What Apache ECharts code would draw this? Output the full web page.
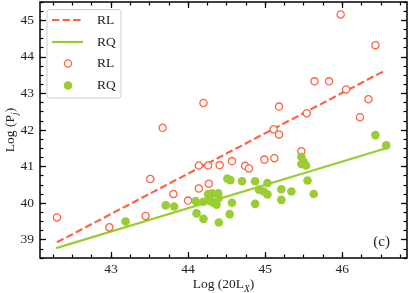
<!DOCTYPE html>
<html>
<head>
<meta charset="utf-8">
<script src="https://cdn.jsdelivr.net/npm/echarts@6/dist/echarts.min.js"></script>
<style>
  html, body { margin: 0; padding: 0; background: #fff; }
  #chart { width: 409px; height: 293px; }
</style>
</head>
<body>
<div id="chart"></div>
<script>
// RL sources (open circles)
var rlX = [42.30, 42.98, 43.45, 43.51, 43.67, 43.81, 44.00, 44.14, 44.26, 44.41,
  44.57, 44.74, 44.79, 44.99, 44.14, 44.27, 44.20, 45.12, 45.11, 45.18,
  45.18, 45.54, 45.47, 45.98, 46.43, 45.64, 45.83, 46.05, 46.34, 46.23]
var rlY = [39.61, 39.34, 39.65, 40.66, 42.06, 40.25, 40.07, 41.03, 41.03, 41.04,
  41.15, 41.02, 40.95, 41.19, 40.40, 40.53, 42.74, 41.23, 42.02, 41.88,
  42.64, 42.46, 41.42, 45.16, 44.32, 43.33, 43.33, 43.11, 42.84, 42.35]

// RQ sources (filled circles)
var rqX = [43.19, 43.71, 43.82, 44.10, 44.20, 44.26, 44.31, 44.39, 44.29, 44.34,
  44.37, 44.40, 44.11, 44.20, 44.40, 44.54, 44.57, 44.51, 44.55, 44.70,
  44.87, 44.87, 45.03, 44.92, 44.98, 45.03, 45.21, 45.21, 45.34, 45.47,
  45.47, 45.50, 45.53, 45.55, 45.63, 46.43, 46.57, 44.28]
var rqY = [39.50, 39.94, 39.91, 40.06, 40.04, 40.25, 40.27, 40.27, 40.05, 40.00,
  39.96, 40.14, 39.72, 39.57, 39.47, 39.70, 40.01, 40.67, 40.63, 40.60,
  40.60, 39.98, 40.55, 40.37, 40.32, 40.24, 40.38, 40.09, 40.32, 41.27,
  41.07, 41.13, 41.03, 40.62, 40.25, 41.86, 41.58, 40.16]

// fitted relations (end points)
var rlFitX = [42.30, 46.54]
var rlFitY = [38.93, 43.61]
var rqFitX = [42.29, 46.57]
var rqFitY = [38.77, 41.50]

var xTicks = [43, 44, 45, 46]
var yTicks = [39, 40, 41, 42, 43, 44, 45]
var xRange = [42.08, 46.84]
var yRange = [38.5, 45.5]

var RED = '#ff6347'
var GREEN = '#9acd32'
var FONT = 'Liberation Serif'

function pairs(xs, ys) {
  return xs.map(function (x, i) { return [x, ys[i]] })
}
function minorTicks(range, step) {
  var out = []
  for (var v = Math.ceil(range[0] / step) * step; v <= range[1] + 1e-9; v += step) {
    out.push(+v.toFixed(4))
  }
  return out
}

function makeAxis(dim, pos, major, withLabel) {
  var range = dim === 'x' ? xRange : yRange
  var ticks = dim === 'x' ? xTicks : yTicks
  var ax = {
    type: 'value',
    position: pos,
    min: range[0],
    max: range[1],
    splitLine: { show: false },
    axisLine: { show: false },
    axisTick: {
      show: true,
      inside: true,
      length: major ? 6 : 3.5,
      customValues: major ? ticks : minorTicks(range, 0.25),
      lineStyle: { color: '#000', width: 1.2 }
    },
    axisLabel: { show: false }
  }
  if (withLabel) {
    ax.axisLabel = {
      show: true,
      customValues: ticks,
      fontFamily: FONT,
      fontSize: 13.5,
      color: '#222',
      margin: dim === 'x' ? 4 : 6
    }
  }
  return ax
}

var chart = echarts.init(document.getElementById('chart'), null, { renderer: 'canvas' })

var subStyle = { fontFamily: FONT, fontSize: 9.5, fontStyle: 'italic', color: '#222', lineHeight: 12, verticalAlign: 'bottom' }

var xBottom = makeAxis('x', 'bottom', true, true)
xBottom.name = 'Log (20L{sub|X})'
xBottom.nameLocation = 'middle'
xBottom.nameGap = 16
xBottom.nameMoveOverlap = false
xBottom.nameTextStyle = {
  fontFamily: FONT, fontSize: 13.5, color: '#222', lineHeight: 20, rich: { sub: subStyle }
}
var yLeft = makeAxis('y', 'left', true, true)
yLeft.name = 'Log (P{sub|j})'
yLeft.nameLocation = 'middle'
yLeft.nameGap = 20
yLeft.nameMoveOverlap = false
yLeft.nameTextStyle = {
  fontFamily: FONT, fontSize: 13.5, color: '#222', lineHeight: 20, rich: { sub: subStyle }
}

var option = {
  animation: false,
  backgroundColor: '#fff',
  grid: {
    left: 40, right: 2, top: 2, bottom: 35,
    outerBoundsMode: 'none',
    containLabel: false,
    show: true, borderColor: '#000', borderWidth: 1.5, backgroundColor: 'transparent'
  },
  xAxis: [
    xBottom,
    makeAxis('x', 'bottom', false, false),
    makeAxis('x', 'top', true, false),
    makeAxis('x', 'top', false, false)
  ],
  yAxis: [
    yLeft,
    makeAxis('y', 'left', false, false),
    makeAxis('y', 'right', true, false),
    makeAxis('y', 'right', false, false)
  ],
  series: [
    {
      name: 'RL fit', type: 'line', data: pairs(rlFitX, rlFitY), symbol: 'none',
      lineStyle: { color: RED, width: 2.2, type: [7.4, 3.2] }, z: 2
    },
    {
      name: 'RQ fit', type: 'line', data: pairs(rqFitX, rqFitY), symbol: 'none',
      lineStyle: { color: GREEN, width: 2.2 }, z: 2
    },
    {
      name: 'RL', type: 'scatter', data: pairs(rlX, rlY), symbol: 'circle', symbolSize: 7.2,
      itemStyle: { color: '#fff', borderColor: RED, borderWidth: 1.3, opacity: 1 }, z: 3
    },
    {
      name: 'RQ', type: 'scatter', data: pairs(rqX, rqY), symbol: 'circle', symbolSize: 8.6,
      itemStyle: { color: GREEN, opacity: 1 }, z: 4
    }
  ],
  graphic: [
    { type: 'rect', shape: { x: 47, y: 9.5, width: 74, height: 88.5, r: 3 },
      style: { fill: 'rgba(255,255,255,0.85)', stroke: '#cccccc', lineWidth: 1 }, z: 10 },
    { type: 'line', shape: { x1: 52, y1: 20, x2: 83, y2: 20 },
      style: { stroke: RED, lineWidth: 2.2, lineDash: [7.4, 3.2] }, z: 11 },
    { type: 'line', shape: { x1: 52, y1: 42, x2: 83, y2: 42 },
      style: { stroke: GREEN, lineWidth: 2.2 }, z: 11 },
    { type: 'circle', shape: { cx: 68, cy: 63.5, r: 3.6 },
      style: { fill: '#fff', stroke: RED, lineWidth: 1.3 }, z: 11 },
    { type: 'circle', shape: { cx: 68, cy: 85.5, r: 4.3 },
      style: { fill: GREEN }, z: 11 },
    { type: 'text', x: 97, y: 20, style: { text: 'RL', font: '13.5px "' + FONT + '"', fill: '#222', verticalAlign: 'middle' }, z: 11 },
    { type: 'text', x: 97, y: 42, style: { text: 'RQ', font: '13.5px "' + FONT + '"', fill: '#222', verticalAlign: 'middle' }, z: 11 },
    { type: 'text', x: 97, y: 63.5, style: { text: 'RL', font: '13.5px "' + FONT + '"', fill: '#222', verticalAlign: 'middle' }, z: 11 },
    { type: 'text', x: 97, y: 85.5, style: { text: 'RQ', font: '13.5px "' + FONT + '"', fill: '#222', verticalAlign: 'middle' }, z: 11 },
    { type: 'text', x: 390, y: 242, style: { text: '(c)', font: '15px "' + FONT + '"', fill: '#222', align: 'right', verticalAlign: 'middle' }, z: 11 }
  ]
}

chart.setOption(option)
</script>
</body>
</html>
